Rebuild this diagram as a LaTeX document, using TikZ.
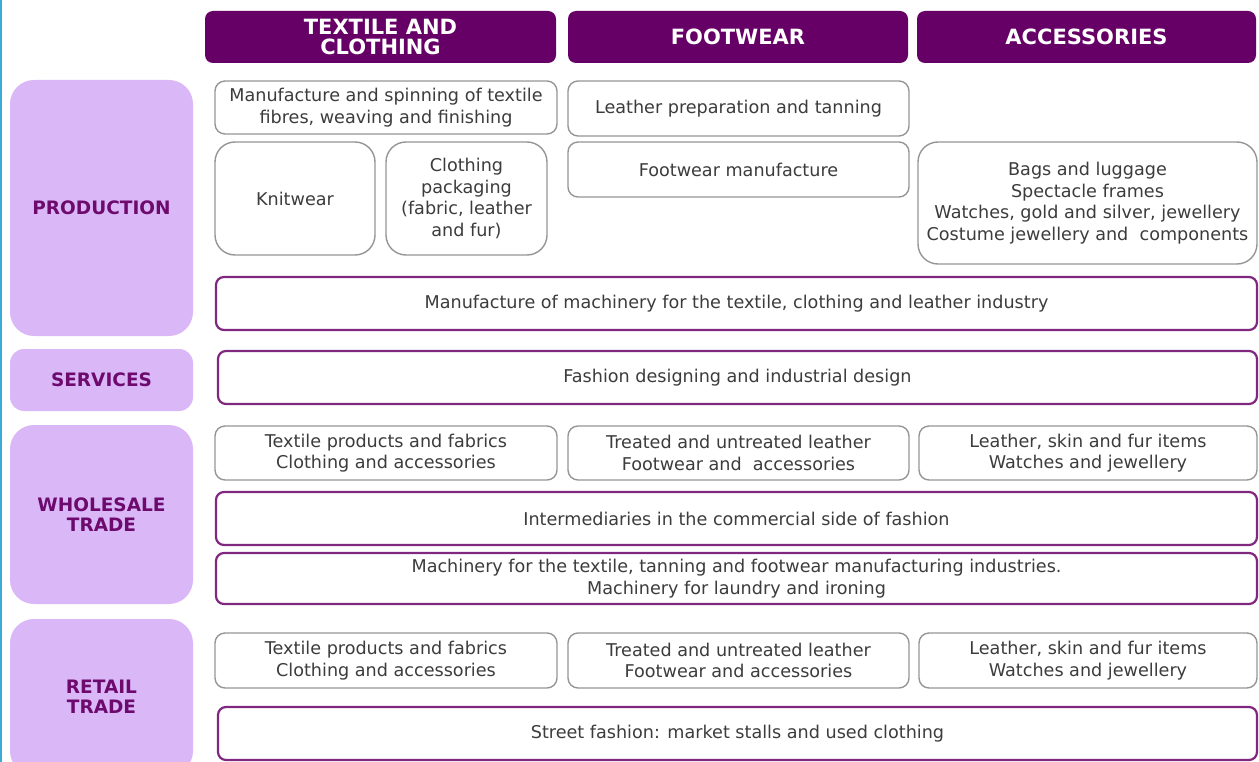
\documentclass[tikz,border=0pt]{standalone}
\usepackage{fontspec}
\setmainfont{DejaVu Sans}
\definecolor{hdrpurple}{RGB}{102,0,102}
\definecolor{sidepurple}{RGB}{218,184,248}
\definecolor{labelpurple}{RGB}{110,10,110}
\definecolor{boxpurple}{RGB}{128,40,128}
\definecolor{boxgray}{RGB}{150,150,150}
\definecolor{textgray}{RGB}{60,60,60}
\definecolor{edgecyan}{RGB}{60,170,215}
\tikzset{
  hdr/.style={fill=hdrpurple, rounded corners=8, text=white, align=center, inner sep=0pt,
    font=\bfseries\fontsize{21}{20}\selectfont},
  side/.style={fill=sidepurple, rounded corners=24, text=labelpurple, align=center, inner sep=0pt,
    minimum width=183, font=\bfseries\fontsize{18.5}{20}\selectfont},
  gbox/.style={draw=boxgray, line width=1.4, rounded corners=10, fill=white, text=textgray,
    align=center, inner sep=0pt, font=\fontsize{17.6}{21.5}\selectfont},
  pbox/.style={draw=boxpurple, line width=2.2, rounded corners=8, fill=white, text=textgray,
    align=center, inner sep=0pt, font=\fontsize{17.6}{21.5}\selectfont},
}
\begin{document}
\begin{tikzpicture}[x=1pt,y=-1pt]
\useasboundingbox (0,0) rectangle (1259,762);
\fill[white] (0,0) rectangle (1259,762);
\draw[edgecyan, line width=2] (1,0) -- (1,762);

% column headers
\node[hdr, minimum width=351, minimum height=52] (hTex) at (380.5,37) {TEXTILE AND\\CLOTHING};
\node[hdr, minimum width=340, minimum height=52] (hFoot) at (738,37) {FOOTWEAR};
\node[hdr, minimum width=339, minimum height=52] (hAcc) at (1086.5,37) {ACCESSORIES};

% row labels
\node[side, minimum height=256] (sProd) at (101.5,208) {PRODUCTION};
\node[side, minimum height=62, rounded corners=14] (sServ) at (101.5,380) {SERVICES};
\node[side, minimum height=179] (sWhole) at (101.5,514.5) {WHOLESALE\\TRADE};
\node[side, minimum height=156] (sRetail) at (101.5,697) {RETAIL\\TRADE};

% production
\node[gbox, minimum width=342, minimum height=53] (pSpin) at (386,107.5)
  {Manufacture and spinning of textile\\fibres, weaving and finishing};
\node[gbox, minimum width=341, minimum height=55] (pLeather) at (738.5,108.5)
  {Leather preparation and tanning};
\node[gbox, rounded corners=20, minimum width=160, minimum height=113] (pKnit) at (295,198.5)
  {Knitwear};
\node[gbox, rounded corners=20, minimum width=161, minimum height=113] (pPack) at (466.5,198.5)
  {Clothing\\packaging\\(fabric, leather\\and fur)};
\node[gbox, minimum width=341, minimum height=55] (pFoot) at (738.5,169.5)
  {Footwear manufacture};
\node[gbox, rounded corners=20, minimum width=339, minimum height=122] (pAcc) at (1087.5,203)
  {Bags and luggage\\Spectacle frames\\Watches, gold and silver, jewellery\\Costume jewellery and\ \ components};
\node[pbox, minimum width=1041, minimum height=53] (pMach) at (736.5,303.5)
  {Manufacture of machinery for the textile, clothing and leather industry};

% services
\node[pbox, minimum width=1039, minimum height=53] (svDesign) at (737.5,377.5)
  {Fashion designing and industrial design};

% wholesale trade
\node[gbox, minimum width=342, minimum height=54] (w1) at (386,453)
  {Textile products and fabrics\\Clothing and accessories};
\node[gbox, minimum width=341, minimum height=54] (w2) at (738.5,453)
  {Treated and untreated leather\\Footwear and\ \ accessories};
\node[gbox, minimum width=338, minimum height=54] (w3) at (1088,453)
  {Leather, skin and fur items\\Watches and jewellery};
\node[pbox, minimum width=1041, minimum height=53] (wInt) at (736.5,518.5)
  {Intermediaries in the commercial side of fashion};
\node[pbox, minimum width=1041, minimum height=51] (wMach) at (736.5,578.5)
  {Machinery for the textile, tanning and footwear manufacturing industries.\\Machinery for laundry and ironing};

% retail trade
\node[gbox, minimum width=342, minimum height=55] (r1) at (386,660.5)
  {Textile products and fabrics\\Clothing and accessories};
\node[gbox, minimum width=341, minimum height=55] (r2) at (738.5,660.5)
  {Treated and untreated leather\\Footwear and accessories};
\node[gbox, minimum width=338, minimum height=55] (r3) at (1088,660.5)
  {Leather, skin and fur items\\Watches and jewellery};
\node[pbox, minimum width=1039, minimum height=53] (rStreet) at (737.5,733.5)
  {Street fashion: market stalls and used clothing};
\end{tikzpicture}
\end{document}
